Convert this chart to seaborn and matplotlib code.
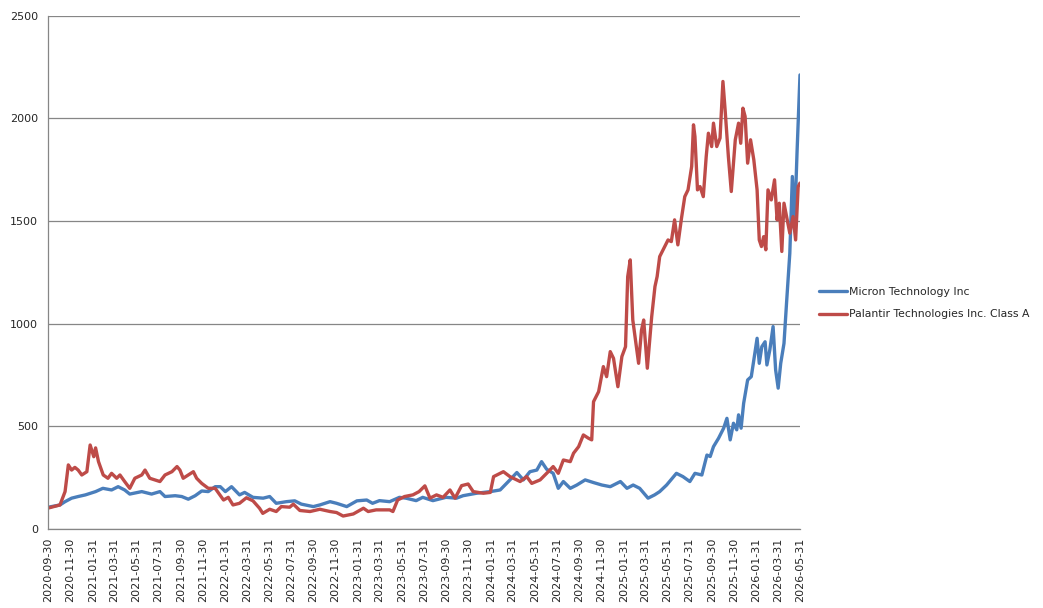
import matplotlib
matplotlib.use("Agg")
import matplotlib.pyplot as plt
import matplotlib.dates as mdates
import numpy as np
import pandas as pd
import seaborn as sns

sns.set_style("white")
plt.rcParams['font.family'] = ['DejaVu Sans']

# values
micron_dates = [
    "2020-10-01", "2020-11-02", "2020-11-16", "2020-12-04", "2020-12-22", "2021-01-11",
    "2021-02-08", "2021-02-28", "2021-03-24", "2021-04-11", "2021-04-29", "2021-05-13",
    "2021-06-15", "2021-07-12", "2021-08-04", "2021-08-18", "2021-09-15", "2021-10-03",
    "2021-10-21", "2021-11-09", "2021-11-27", "2021-12-15", "2022-01-03", "2022-01-17",
    "2022-01-31", "2022-02-17", "2022-03-11", "2022-03-25", "2022-04-17", "2022-05-15",
    "2022-06-02", "2022-06-20", "2022-07-18", "2022-08-10", "2022-08-28", "2022-09-30",
    "2022-10-18", "2022-11-15", "2022-12-03", "2022-12-31", "2023-01-28", "2023-02-24",
    "2023-03-12", "2023-03-31", "2023-04-28", "2023-05-25", "2023-06-12", "2023-07-10",
    "2023-07-28", "2023-08-25", "2023-09-30", "2023-10-29", "2023-11-16", "2023-12-23",
    "2024-01-30", "2024-02-26", "2024-03-24", "2024-04-12", "2024-04-30", "2024-05-18",
    "2024-06-06", "2024-06-19", "2024-07-03", "2024-07-21", "2024-08-04", "2024-08-18",
    "2024-09-06", "2024-09-24", "2024-10-17", "2024-11-09", "2024-12-02", "2024-12-25",
    "2025-01-22", "2025-02-09", "2025-02-26", "2025-03-16", "2025-04-08", "2025-04-26",
    "2025-05-10", "2025-05-29", "2025-06-25", "2025-07-13", "2025-08-01", "2025-08-15",
    "2025-09-03", "2025-09-17", "2025-09-26", "2025-10-05", "2025-10-19", "2025-11-02",
    "2025-11-11", "2025-11-20", "2025-11-29", "2025-12-08", "2025-12-13", "2025-12-20",
    "2025-12-27", "2026-01-07", "2026-01-17", "2026-01-24", "2026-02-02", "2026-02-08",
    "2026-02-15", "2026-02-24", "2026-03-01", "2026-03-09", "2026-03-18", "2026-03-25",
    "2026-04-01", "2026-04-08", "2026-04-17", "2026-04-24", "2026-05-03", "2026-05-10",
    "2026-05-16", "2026-05-23", "2026-05-31",
]
micron_values = [
    106, 117, 133, 150, 158, 166,
    182, 198, 190, 206, 190, 170,
    182, 170, 182, 158, 162, 158,
    145, 162, 185, 182, 206, 206,
    182, 206, 166, 178, 154, 150,
    158, 125, 133, 137, 121, 109,
    117, 133, 125, 109, 137, 141,
    125, 138, 133, 154, 150, 138,
    154, 138, 154, 150, 162, 174,
    182, 190, 239, 275, 239, 279,
    287, 328, 291, 271, 198, 231,
    198, 214, 239, 226, 214, 206,
    231, 198, 214, 198, 150, 166,
    182, 214, 271, 255, 231, 271,
    263, 360, 353, 401, 442, 491,
    539, 434, 515, 483, 556, 491,
    612, 726, 742, 823, 929, 807,
    888, 912, 799, 872, 986, 775,
    686, 807, 904, 1100, 1343, 1717,
    1474, 1839, 2212,
]

palantir_dates = [
    "2020-10-01", "2020-11-02", "2020-11-16", "2020-11-25", "2020-12-04", "2020-12-13",
    "2020-12-22", "2021-01-01", "2021-01-15", "2021-01-24", "2021-02-03", "2021-02-08",
    "2021-02-16", "2021-03-01", "2021-03-14", "2021-03-24", "2021-04-07", "2021-04-16",
    "2021-04-29", "2021-05-13", "2021-05-27", "2021-06-15", "2021-06-24", "2021-07-07",
    "2021-07-21", "2021-08-04", "2021-08-18", "2021-09-06", "2021-09-20", "2021-09-28",
    "2021-10-07", "2021-10-21", "2021-11-04", "2021-11-13", "2021-11-27", "2021-12-15",
    "2022-01-03", "2022-01-26", "2022-02-08", "2022-02-21", "2022-03-11", "2022-03-30",
    "2022-04-17", "2022-05-05", "2022-05-14", "2022-06-02", "2022-06-20", "2022-07-04",
    "2022-07-27", "2022-08-06", "2022-08-24", "2022-09-21", "2022-10-18", "2022-11-15",
    "2022-12-03", "2022-12-21", "2023-01-18", "2023-02-15", "2023-02-28", "2023-03-22",
    "2023-04-28", "2023-05-07", "2023-05-20", "2023-06-08", "2023-07-01", "2023-07-18",
    "2023-08-03", "2023-08-17", "2023-09-04", "2023-09-22", "2023-10-11", "2023-10-25",
    "2023-11-12", "2023-11-30", "2023-12-14", "2024-01-11", "2024-01-30", "2024-02-08",
    "2024-03-06", "2024-03-24", "2024-04-21", "2024-05-09", "2024-05-23", "2024-06-15",
    "2024-07-03", "2024-07-21", "2024-08-04", "2024-08-18", "2024-09-06", "2024-09-15",
    "2024-09-29", "2024-10-12", "2024-10-26", "2024-11-04", "2024-11-09", "2024-11-23",
    "2024-12-06", "2024-12-15", "2024-12-25", "2025-01-03", "2025-01-15", "2025-01-26",
    "2025-02-05", "2025-02-11", "2025-02-18", "2025-02-25", "2025-03-07", "2025-03-13",
    "2025-03-21", "2025-03-27", "2025-04-06", "2025-04-18", "2025-04-27", "2025-05-03",
    "2025-05-10", "2025-05-24", "2025-06-02", "2025-06-11", "2025-06-20", "2025-06-29",
    "2025-07-09", "2025-07-18", "2025-07-27", "2025-08-06", "2025-08-11", "2025-08-15",
    "2025-08-22", "2025-08-29", "2025-09-07", "2025-09-15", "2025-09-21", "2025-09-30",
    "2025-10-05", "2025-10-14", "2025-10-23", "2025-10-31", "2025-11-06", "2025-11-15",
    "2025-11-23", "2025-12-04", "2025-12-13", "2025-12-19", "2025-12-25", "2025-12-31",
    "2026-01-07", "2026-01-15", "2026-01-24", "2026-02-02", "2026-02-08", "2026-02-14",
    "2026-02-20", "2026-02-26", "2026-03-04", "2026-03-13", "2026-03-22", "2026-03-29",
    "2026-04-04", "2026-04-11", "2026-04-17", "2026-04-24", "2026-05-03", "2026-05-12",
    "2026-05-19", "2026-05-26", "2026-05-31",
]
palantir_values = [
    102, 117, 182, 312, 287, 300,
    287, 263, 279, 409, 352, 395,
    328, 263, 247, 271, 247, 263,
    231, 198, 247, 263, 287, 247,
    239, 231, 263, 279, 304, 287,
    247, 263, 279, 247, 222, 198,
    198, 141, 154, 117, 125, 152,
    137, 101, 76, 96, 85, 109,
    106, 121, 90, 85, 96, 85,
    80, 63, 73, 101, 85, 93,
    93, 85, 141, 158, 166, 182,
    210, 150, 166, 154, 190, 150,
    211, 219, 182, 174, 178, 255,
    279, 255, 231, 255, 222, 239,
    271, 304, 271, 336, 328, 369,
    401, 458, 442, 434, 620, 669,
    791, 742, 864, 831, 693, 840,
    888, 1229, 1311, 1018, 888, 807,
    969, 1018, 783, 1034, 1181, 1230,
    1327, 1376, 1408, 1400, 1506, 1384,
    1514, 1619, 1652, 1766, 1969, 1912,
    1652, 1668, 1619, 1814, 1928, 1863,
    1977, 1863, 1904, 2180, 2042, 1814,
    1644, 1896, 1977, 1879, 2050, 2010,
    1782, 1896, 1798, 1652, 1408, 1376,
    1424, 1360, 1652, 1603, 1701, 1506,
    1587, 1352, 1587, 1522, 1441, 1522,
    1408, 1668, 1685,
]

series_names = ["Micron Technology Inc", "Palantir Technologies Inc. Class A"]
series_colors = ["#4A7EBB", "#BE4B48"]

df = pd.concat([
    pd.DataFrame({"date": pd.to_datetime(micron_dates), "value": micron_values,
                  "series": series_names[0]}),
    pd.DataFrame({"date": pd.to_datetime(palantir_dates), "value": palantir_values,
                  "series": series_names[1]}),
], ignore_index=True)

tick_dates = pd.date_range("2020-09-30", "2026-05-31", freq="2ME")

fig = plt.figure(figsize=(10.43, 6.08), dpi=100)
ax = fig.add_axes([0.046, 0.13, 0.721, 0.844])

sns.lineplot(data=df, x="date", y="value", hue="series", palette=series_colors,
             linewidth=2.4, estimator=None, ax=ax)

ax.set_xlim(tick_dates[0], tick_dates[-1])
ax.set_ylim(0, 2500)
ax.set_yticks(np.arange(0, 2501, 500))
ax.set_xticks(tick_dates)
ax.xaxis.set_major_formatter(mdates.DateFormatter("%Y-%m-%d"))
ax.tick_params(axis="x", rotation=90, labelsize=8, length=4, color="#868686",
               direction="out", pad=2)
ax.tick_params(axis="y", labelsize=8, length=5, color="#868686", direction="out", pad=2)
ax.set_xlabel("")
ax.set_ylabel("")

ax.yaxis.grid(True, color="#868686", linewidth=0.9)
ax.xaxis.grid(False)
ax.set_axisbelow(True)
for side in ["top", "right"]:
    ax.spines[side].set_visible(False)
for side in ["left", "bottom"]:
    ax.spines[side].set_color("#868686")
    ax.spines[side].set_linewidth(0.9)

leg = ax.legend(loc="center left", bbox_to_anchor=(1.012, 0.44), frameon=False,
                fontsize=7.8, handlelength=2.6, handletextpad=0.15, labelspacing=1.15,
                borderaxespad=0.5)

fig.savefig("out.png", dpi=100)
